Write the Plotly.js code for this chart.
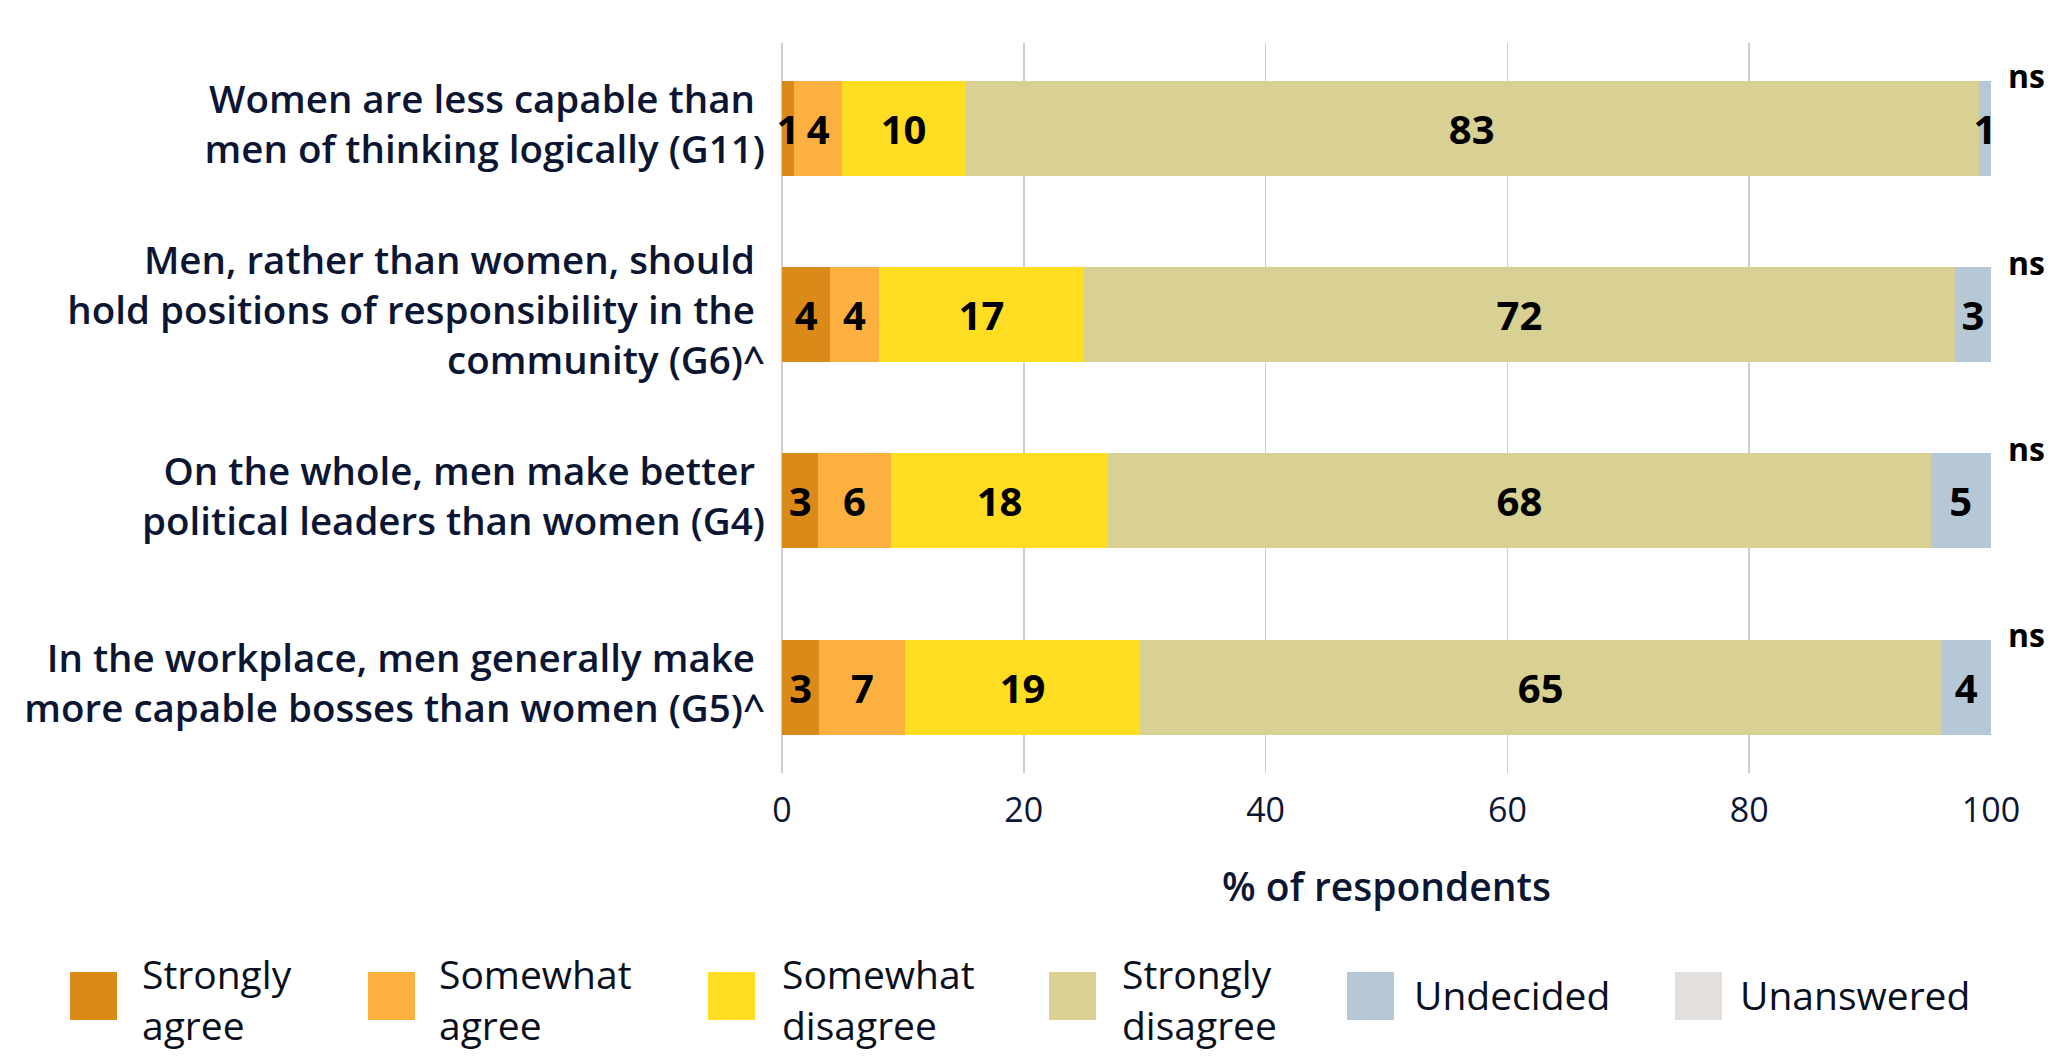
<!DOCTYPE html>
<html>
<head>
<meta charset="utf-8">
<script src="https://cdn.plot.ly/plotly-3.0.1.min.js"></script>
<style>html,body{margin:0;padding:0;background:#fff;}#chart{width:2067px;height:1063px;}</style>
</head>
<body>
<div id="chart"></div>
<script>
// ---- data ----
const categories = [
  "Women are less capable than\u00a0<br>men of thinking logically (G11)",
  "Men, rather than women, should\u00a0<br>hold positions of responsibility in the\u00a0<br>community (G6)^",
  "On the whole, men make better\u00a0<br>political leaders than women (G4)",
  "In the workplace, men generally make\u00a0<br>more capable bosses than women (G5)^"
];
const seriesNames = ["Strongly<br>agree", "Somewhat<br>agree", "Somewhat<br>disagree", "Strongly<br>disagree", "Undecided", "Unanswered"];
// bar lengths (% of respondents)
const stronglyAgree    = [1.0, 4.0, 3.0, 3.1];
const somewhatAgree    = [4.0, 4.0, 6.0, 7.1];
const somewhatDisagree = [10.1, 17.0, 18.0, 19.4];
const stronglyDisagree = [83.9, 72.0, 68.0, 66.3];
const undecided        = [1.0, 3.0, 5.0, 4.1];
const unanswered       = [0, 0, 0, 0];
// printed labels
const stronglyAgreeLbl    = ["1", "4", "3", "3"];
const somewhatAgreeLbl    = ["4", "4", "6", "7"];
const somewhatDisagreeLbl = ["10", "17", "18", "19"];
const stronglyDisagreeLbl = ["83", "72", "68", "65"];
const undecidedLbl        = ["1", "3", "5", "4"];
const unansweredLbl       = ["", "", "", ""];
const significance = ["ns", "ns", "ns", "ns"];
const xTicks = [0, 20, 40, 60, 80, 100];

// ---- styles ----
const colors = ["#DB8A1A", "#FBB040", "#FFDD22", "#D8D193", "#B6C8D5", "#E2DFDC"];
const FONT = "Open Sans, Noto Sans, sans-serif";
const NAVY = "#0c1633";
const W = 2067, H = 1063;
const M = {l: 782, r: 76, t: 43, b: 290};
const PW = W - M.l - M.r, PH = H - M.t - M.b;
const px2x = p => (p - M.l) / PW;
const py2y = p => (H - M.b - p) / PH;

const values = [stronglyAgree, somewhatAgree, somewhatDisagree, stronglyDisagree, undecided, unanswered];
const labels = [stronglyAgreeLbl, somewhatAgreeLbl, somewhatDisagreeLbl, stronglyDisagreeLbl, undecidedLbl, unansweredLbl];

const traces = values.map((v, i) => ({
  type: "bar",
  orientation: "h",
  name: seriesNames[i],
  y: categories,
  x: v,
  text: labels[i],
  textposition: "inside",
  insidetextanchor: "middle",
  constraintext: "none",
  textangle: 0,
  cliponaxis: false,
  textfont: {family: FONT, size: 40, color: "#000000", weight: 700},
  marker: {color: colors[i], line: {width: 0}},
  width: 0.51,
  hoverinfo: "skip",
  showlegend: false
}));

// legend (drawn by hand, square swatches)
const legSwatchX = [70, 368, 708, 1049, 1347, 1675];
const legTextX   = [140, 437, 780, 1120, 1412, 1738];
const legTextY   = [999, 999, 999, 999, 994, 994];
const shapes = [];
const annotations = [];
seriesNames.forEach((n, i) => {
  shapes.push({
    type: "rect", xref: "paper", yref: "paper",
    x0: px2x(legSwatchX[i]), x1: px2x(legSwatchX[i] + 47),
    y0: py2y(1020), y1: py2y(972),
    fillcolor: colors[i], line: {width: 0}
  });
  annotations.push({
    xref: "paper", yref: "paper",
    x: px2x(legTextX[i]), y: py2y(legTextY[i]),
    xanchor: "left", yanchor: "middle", align: "left",
    text: n, showarrow: false,
    font: {family: FONT, size: 39, color: "#0a0f1e", weight: 500}
  });
});
// significance markers
significance.forEach((s, i) => {
  annotations.push({
    xref: "paper", yref: "y",
    x: px2x(2006), y: i - 0.255,
    yshift: 5,
    xanchor: "left", yanchor: "middle",
    text: s, showarrow: false,
    font: {family: FONT, size: 32, color: "#000000", weight: 700}
  });
});

const layout = {
  width: W, height: H,
  margin: M,
  paper_bgcolor: "#ffffff",
  plot_bgcolor: "#ffffff",
  barmode: "stack",
  showlegend: false,
  font: {family: FONT, color: NAVY},
  xaxis: {
    range: [0, 100],
    tickvals: xTicks,
    ticktext: xTicks.map(String),
    showgrid: true, gridcolor: "#cfcfcf", gridwidth: 1.5,
    zeroline: true, zerolinecolor: "#cfcfcf", zerolinewidth: 2,
    showline: false, ticks: "",
    ticklabelstandoff: 14,
    tickfont: {family: FONT, size: 34, color: NAVY},
    title: {text: "% of respondents", standoff: 42,
            font: {family: FONT, size: 39, color: NAVY, weight: 600}}
  },
  yaxis: {
    type: "category",
    categoryorder: "array", categoryarray: categories,
    range: [3.46, -0.457],
    showgrid: false, zeroline: false, showline: false, ticks: "",
    ticklabelstandoff: 16,
    ticklabelshift: 4,
    tickfont: {family: FONT, size: 38.5, color: NAVY, weight: 600}
  },
  shapes: shapes,
  annotations: annotations
};

Plotly.newPlot("chart", traces, layout, {staticPlot: true, displayModeBar: false});
</script>
</body>
</html>
